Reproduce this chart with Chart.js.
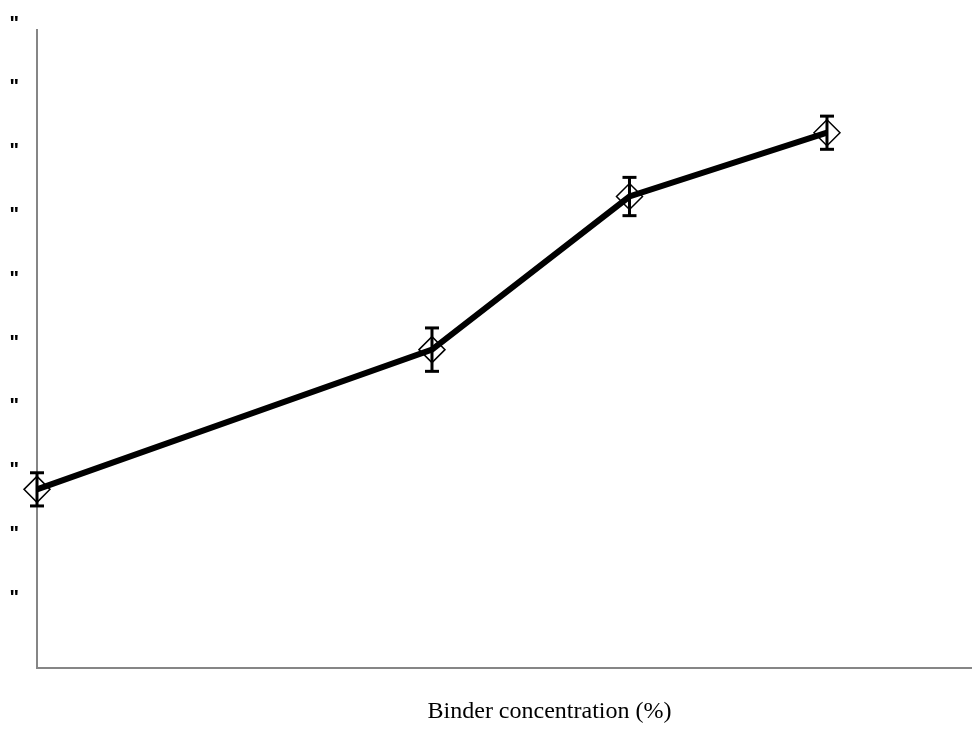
<!DOCTYPE html>
<html>
<head>
<meta charset="utf-8">
<script src="https://cdn.jsdelivr.net/npm/chart.js@4.4.1/dist/chart.umd.min.js"></script>
<style>
  html, body { margin: 0; padding: 0; background: #fff; overflow: hidden; }
  #wrap { position: relative; width: 1062px; height: 753px; }
</style>
</head>
<body>
<div id="wrap"><canvas id="chart"></canvas></div>
<script>
'use strict';

// Data
const binderConc = [0, 2, 3, 4];
const strength = [2.80, 4.99, 7.39, 8.39];
const strengthErr = [0.26, 0.34, 0.30, 0.26];
const yTickLabel = '"';

// error bars: low, high, gap for every point
const errorPoints = [];
binderConc.forEach((x, i) => {
  errorPoints.push({x: x, y: strength[i] - strengthErr[i]});
  errorPoints.push({x: x, y: strength[i] + strengthErr[i]});
  errorPoints.push({x: x, y: NaN});
});

const axisGrey = '#868686';

new Chart(document.querySelector('#chart'), {
  type: 'scatter',
  data: {
    datasets: [{
      label: 'error',
      data: errorPoints,
      showLine: true,
      spanGaps: false,
      clip: false,
      borderColor: '#000',
      borderWidth: 3,
      pointStyle: 'line',
      pointRadius: 7,
      pointBorderWidth: 3,
      pointBorderColor: '#000'
    }, {
      label: 'strength',
      data: binderConc.map((x, i) => ({x: x, y: strength[i]})),
      showLine: true,
      clip: false,
      borderColor: '#000',
      borderWidth: 6,
      tension: 0,
      pointStyle: 'rectRot',
      pointRadius: 13,
      pointBorderWidth: 1.5,
      pointBorderColor: '#000',
      pointBackgroundColor: 'rgba(0,0,0,0)'
    }]
  },
  options: {
    responsive: true,
    maintainAspectRatio: false,
    animation: false,
    layout: {
      autoPadding: false,
      padding: {top: 29, right: 0, bottom: 0, left: 0}
    },
    plugins: {
      legend: {display: false},
      tooltip: {enabled: false}
    },
    scales: {
      x: {
        type: 'linear',
        min: 0,
        max: 5.19,
        grid: {display: false, drawTicks: false},
        border: {display: true, color: axisGrey, width: 2},
        ticks: {display: false},
        title: {
          display: true,
          text: 'Binder concentration (%)',
          color: '#000',
          font: {family: 'Liberation Serif', size: 24},
          padding: {top: 0, bottom: 27}
        },
        afterFit: (scale) => { scale.height = 85; }
      },
      y: {
        type: 'linear',
        min: 0,
        max: 10,
        grid: {display: false, drawTicks: false},
        border: {display: true, color: axisGrey, width: 2},
        ticks: {
          stepSize: 1,
          padding: 18,
          labelOffset: -6,
          color: '#000',
          font: {family: 'Liberation Sans', size: 20, weight: 'bold'},
          callback: (value) => value === 0 ? '' : yTickLabel
        },
        afterFit: (scale) => { scale.width = 37; }
      }
    }
  }
});
</script>
</body>
</html>
